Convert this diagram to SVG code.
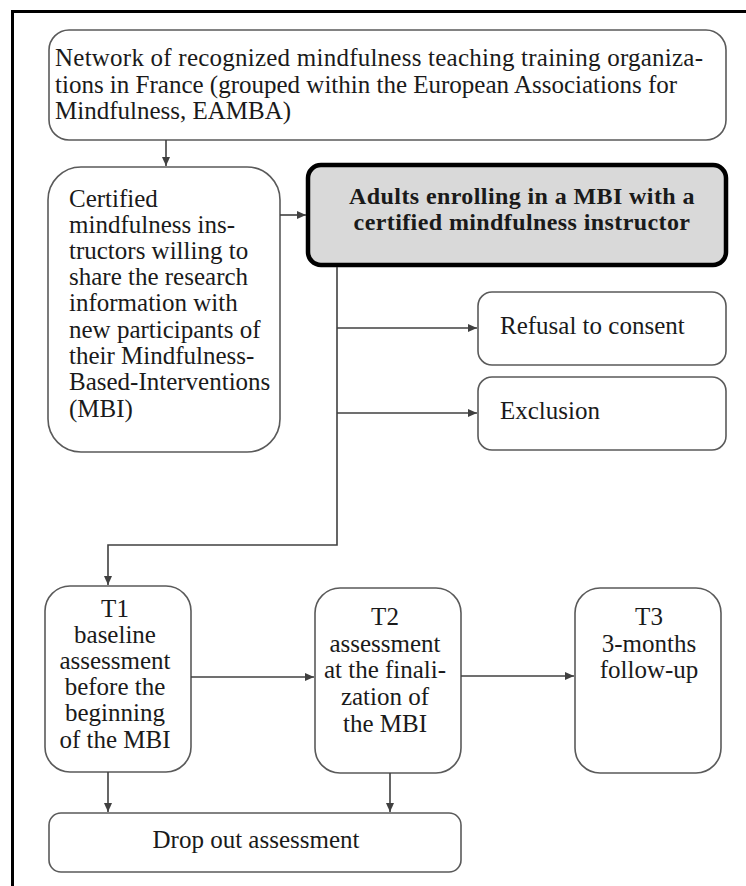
<svg xmlns="http://www.w3.org/2000/svg" width="746" height="886" viewBox="0 0 746 886">
<defs>
<marker id="ah" markerWidth="9" markerHeight="8" refX="9" refY="4" orient="auto" markerUnits="userSpaceOnUse">
<path d="M0,0 L9,4 L0,8 Z" fill="#404040"/>
</marker>
<style>
.box{fill:#fff;stroke:#5a5a5a;stroke-width:1.6}
.main{fill:#d9d9d9;stroke:#000;stroke-width:4.5}
.ar{fill:none;stroke:#404040;stroke-width:1.6;marker-end:url(#ah)}
</style>
</defs>
<rect width="746" height="886" fill="#fff"/>
<path d="M12.5,900 V11.5 H760" fill="none" stroke="#000" stroke-width="3"/>

<g id="network" font-family="Liberation Serif, serif" font-size="25" fill="#1a1a1a">
<rect class="box" x="49" y="30" width="677" height="110" rx="20"/>
<text x="55" y="66" textLength="648" lengthAdjust="spacing">Network of recognized mindfulness teaching training organiza-</text>
<text x="55" y="92.5">tions in France (grouped within the European Associations for</text>
<text x="55" y="119">Mindfulness, EAMBA)</text>
</g>

<g id="certified" font-family="Liberation Serif, serif" font-size="25" fill="#1a1a1a">
<rect class="box" x="48" y="167" width="232" height="285" rx="33"/>
<text x="69" y="207">Certified</text>
<text x="69" y="233">mindfulness ins-</text>
<text x="69" y="259">tructors willing to</text>
<text x="69" y="285">share the research</text>
<text x="69" y="311">information with</text>
<text x="69" y="338">new participants of</text>
<text x="69" y="364">their Mindfulness-</text>
<text x="69" y="390">Based-Interventions</text>
<text x="69" y="417">(MBI)</text>
</g>

<g id="adults" font-family="Liberation Serif, serif" font-size="24" font-weight="bold" fill="#1a1a1a" text-anchor="middle" letter-spacing="0.4">
<rect class="main" x="308" y="165" width="418" height="100" rx="13"/>
<text x="522" y="204">Adults enrolling in a MBI with a</text>
<text x="522" y="230">certified mindfulness instructor</text>
</g>

<g id="refusal" font-family="Liberation Serif, serif" font-size="25" fill="#1a1a1a">
<rect class="box" x="478" y="292" width="248" height="73" rx="14"/>
<text x="500" y="334">Refusal to consent</text>
</g>

<g id="exclusion" font-family="Liberation Serif, serif" font-size="25" fill="#1a1a1a">
<rect class="box" x="478" y="377" width="248" height="73" rx="14"/>
<text x="500" y="419">Exclusion</text>
</g>

<g id="t1" font-family="Liberation Serif, serif" font-size="25" fill="#1a1a1a" text-anchor="middle">
<rect class="box" x="45" y="586" width="146" height="186" rx="25"/>
<text x="115" y="617">T1</text>
<text x="115" y="643">baseline</text>
<text x="115" y="669">assessment</text>
<text x="115" y="695">before the</text>
<text x="115" y="721">beginning</text>
<text x="115" y="748">of the MBI</text>
</g>

<g id="t2" font-family="Liberation Serif, serif" font-size="25" fill="#1a1a1a" text-anchor="middle">
<rect class="box" x="315" y="588" width="146" height="185" rx="25"/>
<text x="385" y="625">T2</text>
<text x="385" y="652">assessment</text>
<text x="385" y="678">at the finali-</text>
<text x="385" y="705">zation of</text>
<text x="385" y="732">the MBI</text>
</g>

<g id="t3" font-family="Liberation Serif, serif" font-size="25" fill="#1a1a1a" text-anchor="middle">
<rect class="box" x="575" y="588" width="146" height="185" rx="25"/>
<text x="649" y="625">T3</text>
<text x="649" y="652">3-months</text>
<text x="649" y="678">follow-up</text>
</g>

<g id="dropout" font-family="Liberation Serif, serif" font-size="25" fill="#1a1a1a" text-anchor="middle">
<rect class="box" x="49" y="813" width="412" height="59" rx="12"/>
<text x="256" y="848">Drop out assessment</text>
</g>

<g id="connectors">
<line class="ar" x1="166" y1="140" x2="166" y2="166"/>
<line class="ar" x1="280" y1="215" x2="306" y2="215"/>
<path class="ar" d="M337,267 V545 H108 V585"/>
<line class="ar" x1="337" y1="328" x2="477" y2="328"/>
<line class="ar" x1="337" y1="413" x2="477" y2="413"/>
<line class="ar" x1="191" y1="677" x2="314" y2="677"/>
<line class="ar" x1="461" y1="676" x2="574" y2="676"/>
<line class="ar" x1="108" y1="772" x2="108" y2="812"/>
<line class="ar" x1="390" y1="773" x2="390" y2="812"/>
</g>
</svg>
